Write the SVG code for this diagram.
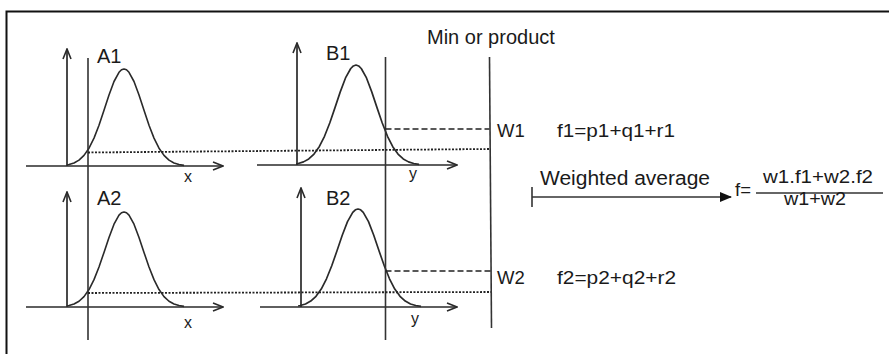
<svg xmlns="http://www.w3.org/2000/svg" width="889" height="354" viewBox="0 0 889 354">
<style>
.ln{stroke:#333;stroke-width:1.6;fill:none}
.ax{stroke:#2a2a2a;stroke-width:1.7;fill:none}
.cv{stroke:#2a2a2a;stroke-width:1.6;fill:none;stroke-linejoin:round}
.dot{stroke:#222;stroke-width:1.8;fill:none;stroke-dasharray:2 1.5}
.dsh{stroke:#222;stroke-width:1.6;fill:none;stroke-dasharray:6 3}
.t{font-family:"Liberation Sans",Arial,sans-serif;fill:#1a1a1a}
.big{font-size:20px}
.md{font-size:18.5px}
.sm{font-size:16px}
</style>
<defs>
<path id="g" d="M-57,-1 L-55,-1.47 -50,-3.04 -45,-5.87 -40,-10.6 -35,-17.8 -30,-27.9 -25,-40.8 -20,-55.7 -15,-71 -10,-84.5 -5,-93.7 -2.5,-96.2 0,-97 2.5,-96.2 5,-93.7 10,-84.5 15,-71 20,-55.7 25,-40.8 30,-27.9 35,-17.8 40,-10.6 45,-5.87 50,-3.04 55,-1.47 60,-0.66"/>
<marker id="open" viewBox="0 0 12 10" refX="11" refY="5" markerWidth="12" markerHeight="10" markerUnits="userSpaceOnUse" orient="auto">
<path d="M1,1 L11,5 L1,9" fill="none" stroke="#2a2a2a" stroke-width="1.6"/>
</marker>
<marker id="fill" viewBox="0 0 12 10" refX="11" refY="5" markerWidth="12" markerHeight="10" markerUnits="userSpaceOnUse" orient="auto">
<path d="M0,0 L12,5 L0,10 Z" fill="#111"/>
</marker>
</defs>
<rect width="889" height="354" fill="#fff"/>
<g id="frame">
<path d="M6.5,354 V11.5 H889" stroke="#111" stroke-width="2" fill="none"/>
</g>
<g id="A1">
<line class="ax" x1="26" y1="166" x2="223" y2="166" marker-end="url(#open)"/>
<line class="ax" x1="67" y1="166" x2="67" y2="49" marker-end="url(#open)"/>
<use href="#g" class="cv" transform="translate(124,166)"/>
<text class="t big" x="97" y="63">A1</text>
<text class="t sm" x="184" y="182">x</text>
</g>
<g id="B1">
<line class="ax" x1="257" y1="165" x2="457" y2="165" marker-end="url(#open)"/>
<line class="ax" x1="297" y1="165" x2="297" y2="43" marker-end="url(#open)"/>
<use href="#g" class="cv" transform="translate(356,165) scale(1.05,1.03)"/>
<text class="t big" x="326" y="60">B1</text>
<text class="t sm" x="409" y="179">y</text>
</g>
<g id="A2">
<line class="ax" x1="26" y1="307" x2="223" y2="307" marker-end="url(#open)"/>
<line class="ax" x1="67" y1="307" x2="67" y2="192" marker-end="url(#open)"/>
<use href="#g" class="cv" transform="translate(124,307) scale(1,0.98)"/>
<text class="t big" x="97" y="205">A2</text>
<text class="t sm" x="184" y="328">x</text>
</g>
<g id="B2">
<line class="ax" x1="260" y1="307" x2="457" y2="307" marker-end="url(#open)"/>
<line class="ax" x1="301" y1="307" x2="301" y2="188" marker-end="url(#open)"/>
<use href="#g" class="cv" transform="translate(358,307) scale(1.05,1.01)"/>
<text class="t big" x="326" y="205">B2</text>
<text class="t sm" x="411" y="324">y</text>
</g>
<g id="inputs">
<line class="ln" x1="88" y1="58" x2="88" y2="340"/>
<line class="ln" x1="385.5" y1="57" x2="385.5" y2="340"/>
</g>
<g id="min-or-product">
<line class="ln" x1="489.5" y1="57" x2="491.5" y2="328"/>
<text class="t big" x="427" y="44">Min or product</text>
</g>
<g id="rule1">
<text class="t md" x="497" y="137">W1</text>
<text class="t md" x="557" y="137" textLength="118" lengthAdjust="spacingAndGlyphs">f1=p1+q1+r1</text>
</g>
<g id="rule2">
<text class="t md" x="497" y="284">W2</text>
<text class="t md" x="557" y="284" textLength="119" lengthAdjust="spacingAndGlyphs">f2=p2+q2+r2</text>
</g>
<g id="result">
<text class="t md" x="735" y="196">f=</text>
<line x1="756" y1="193" x2="883" y2="193" stroke="#666" stroke-width="1.8"/>
<text class="t md" x="763" y="183" textLength="110" lengthAdjust="spacingAndGlyphs">w1.f1+w2.f2</text>
<text class="t md" x="784" y="205" textLength="62" lengthAdjust="spacingAndGlyphs">w1+w2</text>
</g>
<g id="connectors">
<line class="dot" x1="88" y1="152.5" x2="489" y2="149"/>
<line class="dsh" x1="385.5" y1="129" x2="489.5" y2="129"/>
<line class="dot" x1="88" y1="293" x2="491" y2="292"/>
<line class="dsh" x1="385.5" y1="271" x2="491" y2="271"/>
<line x1="532" y1="187" x2="532" y2="207" stroke="#333" stroke-width="1.6"/>
<line x1="532" y1="197" x2="731" y2="197" stroke="#333" stroke-width="1.6" marker-end="url(#fill)"/>
<text class="t big" x="540" y="185" textLength="170" lengthAdjust="spacingAndGlyphs">Weighted average</text>
</g>
</svg>
